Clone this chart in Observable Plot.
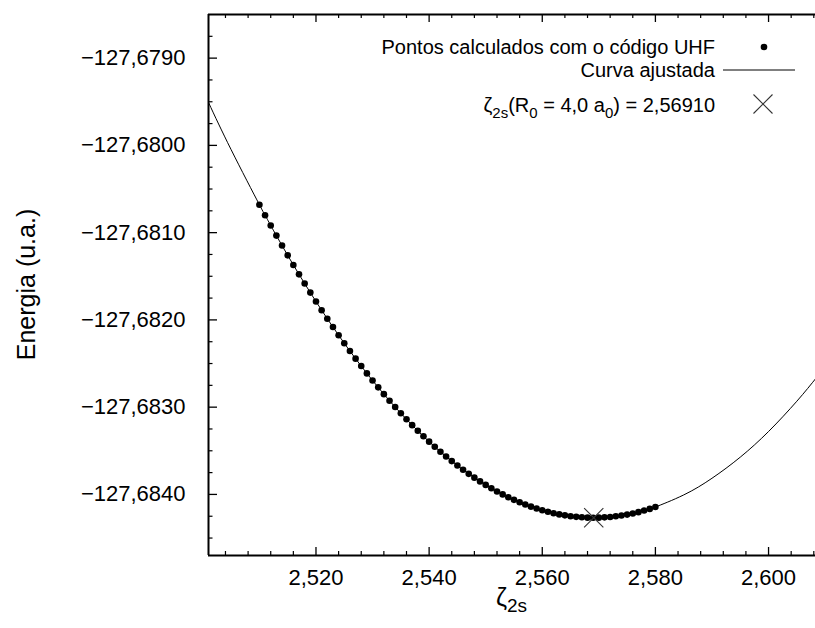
<!DOCTYPE html>
<html>
<head>
<meta charset="utf-8">
<script src="https://cdn.jsdelivr.net/npm/d3@7"></script>
<script src="https://cdn.jsdelivr.net/npm/@observablehq/plot@0.6"></script>
<style>
  html, body { margin: 0; padding: 0; background: white; }
  #chart svg { display: block; }
</style>
</head>
<body>
<div id="chart"></div>
<script>
// ---- Data ----
const zeta = [
  2.510, 2.511, 2.512, 2.513, 2.514, 2.515, 2.516, 2.517, 2.518, 2.519,
  2.520, 2.521, 2.522, 2.523, 2.524, 2.525, 2.526, 2.527, 2.528, 2.529,
  2.530, 2.531, 2.532, 2.533, 2.534, 2.535, 2.536, 2.537, 2.538, 2.539,
  2.540, 2.541, 2.542, 2.543, 2.544, 2.545, 2.546, 2.547, 2.548, 2.549,
  2.550, 2.551, 2.552, 2.553, 2.554, 2.555, 2.556, 2.557, 2.558, 2.559,
  2.560, 2.561, 2.562, 2.563, 2.564, 2.565, 2.566, 2.567, 2.568, 2.569,
  2.570, 2.571, 2.572, 2.573, 2.574, 2.575, 2.576, 2.577, 2.578, 2.579,
  2.580
];
const energy = [
  -127.680680, -127.680800, -127.680918, -127.681034, -127.681148, -127.681260, -127.681370, -127.681478, -127.681583, -127.681687,
  -127.681789, -127.681889, -127.681986, -127.682082, -127.682176, -127.682267, -127.682357, -127.682444, -127.682529, -127.682613,
  -127.682694, -127.682773, -127.682851, -127.682926, -127.682999, -127.683070, -127.683139, -127.683206, -127.683271, -127.683334,
  -127.683395, -127.683454, -127.683511, -127.683565, -127.683618, -127.683669, -127.683717, -127.683764, -127.683808, -127.683851,
  -127.683891, -127.683929, -127.683966, -127.684000, -127.684032, -127.684062, -127.684090, -127.684116, -127.684140, -127.684162,
  -127.684182, -127.684199, -127.684215, -127.684229, -127.684240, -127.684250, -127.684257, -127.684262, -127.684266, -127.684267,
  -127.684266, -127.684263, -127.684258, -127.684251, -127.684242, -127.684231, -127.684218, -127.684203, -127.684185, -127.684166,
  -127.684144
];
// fitted curve, parts outside the computed points
const curveZetaExtra = [2.501, 2.505, 2.585, 2.590, 2.595, 2.600, 2.605, 2.6085];
const curveEnergyExtra = [-127.679508, -127.680049, -127.684006, -127.683815, -127.683573, -127.683279, -127.682932, -127.682659];
// minimum
const minZeta = [2.5691];
const minEnergy = [-127.684267];

// ticks
const xTicks = [2.520, 2.540, 2.560, 2.580, 2.600];
const yTicks = [-127.6790, -127.6800, -127.6810, -127.6820, -127.6830, -127.6840];
const xDomain = [2.5010, 2.6083];
const yDomain = [-127.6847, -127.6785];

// ---- Build ----
const points = zeta.map((z, i) => ({z, e: energy[i]}));
const curvePts = points.concat(curveZetaExtra.map((z, i) => ({z, e: curveEnergyExtra[i]})))
  .sort((a, b) => a.z - b.z);
const minPts = minZeta.map((z, i) => ({z, e: minEnergy[i]}));

const xMinor = d3.range(0, 27).map(i => 2.504 + i * 0.004).filter(v => xTicks.every(t => Math.abs(t - v) > 1e-6));
const yMinor = d3.range(0, 24).map(i => -127.67875 - i * 0.00025).filter(v => yTicks.every(t => Math.abs(t - v) > 1e-7));

const loc = d3.formatLocale({decimal: ",", thousands: ".", grouping: [3], currency: ["", ""], minus: "\u2212"});
const fmtX = loc.format(".3f");
const fmtY = loc.format(".4f");

const W = 815, H = 628, mL = 208, mT = 14, mR = 0, mB = 73;
const fw = W - mL - mR, fh = H - mT - mB;
const FONT = "'Liberation Sans', Arial, Helvetica, sans-serif";

const plot = Plot.plot({
  width: W, height: H,
  marginLeft: mL, marginTop: mT, marginRight: mR, marginBottom: mB,
  style: {fontFamily: FONT, fontSize: "22px", background: "white", color: "black", overflow: "visible"},
  x: {domain: xDomain, label: null},
  y: {domain: yDomain, label: null},
  marks: [
    Plot.line(curvePts, {x: "z", y: "e", curve: "natural", stroke: "black", strokeWidth: 1, clip: true}),
    Plot.dot(points, {x: "z", y: "e", r: 3.3, fill: "black", stroke: "none"}),
    Plot.dot(minPts, {x: "z", y: "e", symbol: "times", r: 8.8, stroke: "#333", strokeWidth: 1.1}),
    // inward ticks
    Plot.ruleX(xTicks, {x: d => d, insetTop: fh - 8, strokeWidth: 1.3}),
    Plot.ruleX(xTicks, {x: d => d, insetBottom: fh - 8, strokeWidth: 1.3}),
    Plot.ruleX(xMinor, {x: d => d, insetTop: fh - 4, strokeWidth: 1.2}),
    Plot.ruleX(xMinor, {x: d => d, insetBottom: fh - 4, strokeWidth: 1.2}),
    Plot.ruleY(yTicks, {y: d => d, insetRight: fw - 9, strokeWidth: 1.3}),
    Plot.ruleY(yMinor, {y: d => d, insetRight: fw - 4.5, strokeWidth: 1.2}),
    // border (left, top, bottom)
    Plot.ruleX([xDomain[0]], {x: d => d, strokeWidth: 2}),
    Plot.ruleY(yDomain, {y: d => d, strokeWidth: 2}),
    Plot.axisX(xTicks, {tickSize: 0, tickPadding: 14, tickFormat: fmtX, fontSize: 22, label: null}),
    Plot.axisY(yTicks, {tickSize: 0, tickPadding: 23, tickFormat: fmtY, fontSize: 22, label: null})
  ]
});

const svg = d3.select(plot);
const g = svg.append("g").attr("font-family", FONT).attr("fill", "black");

// axis labels
g.append("text")
  .attr("transform", `translate(35,${mT + fh / 2}) rotate(-90)`)
  .attr("text-anchor", "middle")
  .attr("font-size", 25)
  .text("Energia (u.a.)");

const xl = g.append("text")
  .attr("x", mL + fw / 2).attr("y", 606)
  .attr("text-anchor", "middle")
  .attr("font-size", 25);
xl.append("tspan").text("ζ");
xl.append("tspan").attr("font-size", 19).attr("dy", 6).text("2s");

// legend
const lx = 715, fs = 20;
g.append("text").attr("x", lx).attr("y", 54).attr("text-anchor", "end").attr("font-size", fs)
  .text("Pontos calculados com o código UHF");
g.append("circle").attr("cx", 764).attr("cy", 47).attr("r", 3.3).attr("fill", "black");

g.append("text").attr("x", lx).attr("y", 77).attr("text-anchor", "end").attr("font-size", fs)
  .text("Curva ajustada");
g.append("line").attr("x1", 723).attr("x2", 795).attr("y1", 70).attr("y2", 70)
  .attr("stroke", "black").attr("stroke-width", 1);

const t3 = g.append("text").attr("x", lx).attr("y", 112).attr("text-anchor", "end").attr("font-size", fs);
t3.append("tspan").text("ζ");
t3.append("tspan").attr("font-size", 15).attr("dy", 6).text("2s");
t3.append("tspan").attr("dy", -6).text("(R");
t3.append("tspan").attr("font-size", 15).attr("dy", 6).text("0");
t3.append("tspan").attr("dy", -6).text(" = 4,0 a");
t3.append("tspan").attr("font-size", 15).attr("dy", 6).text("0");
t3.append("tspan").attr("dy", -6).text(") = 2,56910");
const mx = 763, my = 104, ms = 9.5;
g.append("path").attr("d", `M${mx - ms},${my - ms}L${mx + ms},${my + ms}M${mx - ms},${my + ms}L${mx + ms},${my - ms}`)
  .attr("stroke", "#333").attr("stroke-width", 1.1).attr("fill", "none");

document.getElementById("chart").appendChild(plot);
</script>
</body>
</html>
